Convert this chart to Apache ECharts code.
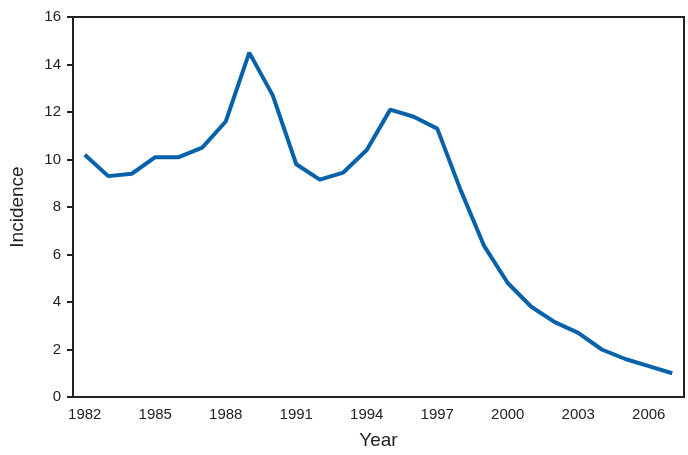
<!DOCTYPE html>
<html><head><meta charset="utf-8">
<script src="https://cdn.jsdelivr.net/npm/echarts@6/dist/echarts.min.js"></script>
<style>html,body{margin:0;background:#fff}#c{width:688px;height:455px}</style>
</head><body><div id="c"></div>
<script>
const years = ['1982','1983','1984','1985','1986','1987','1988','1989','1990','1991','1992','1993','1994','1995','1996','1997','1998','1999','2000','2001','2002','2003','2004','2005','2006','2007'];
const incidence = [10.2,9.3,9.4,10.1,10.1,10.5,11.6,14.5,12.7,9.8,9.15,9.45,10.4,12.1,11.8,11.3,8.7,6.35,4.8,3.8,3.15,2.7,2.0,1.6,1.3,1.0];

const chart = echarts.init(document.getElementById('c'));
const font = 'Liberation Sans, Arial, sans-serif';
chart.setOption({
  animation: false,
  grid: { left: 71, right: 4, top: 17, bottom: 58, show: true, borderColor: '#222', borderWidth: 2 },
  xAxis: {
    type: 'category', data: years, boundaryGap: true,
    name: 'Year', nameLocation: 'middle', nameGap: 34,
    nameTextStyle: { fontFamily: font, fontSize: 19, color: '#222' },
    axisLine: { lineStyle: { color: '#222', width: 2 } },
    axisTick: { alignWithLabel: true, interval: 0, length: 6, lineStyle: { color: '#222', width: 2 } },
    axisLabel: { interval: 2, fontFamily: font, fontSize: 15, color: '#222', margin: 10 }
  },
  yAxis: {
    type: 'value', min: 0, max: 16, interval: 2,
    name: 'Incidence', nameLocation: 'middle', nameGap: 46,
    nameTextStyle: { fontFamily: font, fontSize: 19, color: '#222' },
    axisLine: { show: true, lineStyle: { color: '#222', width: 2 } },
    axisTick: { show: true, length: 6, lineStyle: { color: '#222', width: 2 } },
    axisLabel: { fontFamily: font, fontSize: 15, color: '#222', margin: 12 },
    splitLine: { show: false }
  },
  series: [{
    type: 'line', data: incidence, symbol: 'none',
    lineStyle: { color: '#0862aa', width: 4 }
  }]
});
</script></body></html>
